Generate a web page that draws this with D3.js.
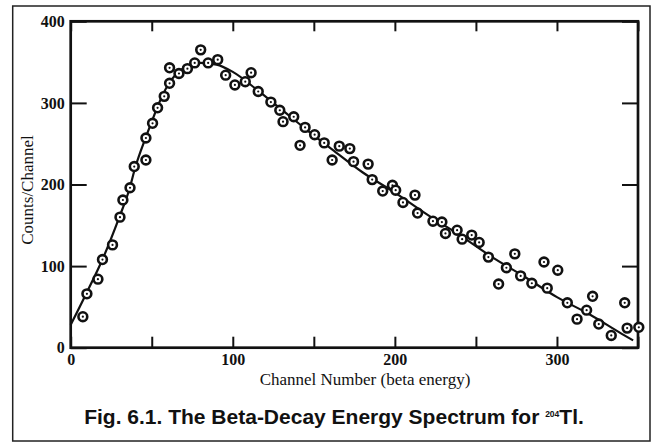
<!DOCTYPE html>
<html>
  <head>
	<meta charset="utf-8">
    <title>Beta-Decay Energy Spectrum</title>
    <script src="https://cdnjs.cloudflare.com/ajax/libs/d3/7.8.5/d3.min.js"></script>
  	<style>
		body{
			margin:0;
			background:#fff;
		}
		svg{
			display:block;
		}
		.tick text{
			font-family:"Liberation Serif","Times New Roman",serif;
			font-size:16px;
			font-weight:bold;
			fill:#111;
		}
		.tick line{
			stroke:#111;
			stroke-width:2px;
		}
		.axis-title{
			font-family:"Liberation Serif","Times New Roman",serif;
			font-size:17px;
			fill:#111;
		}
		.caption{
			font-family:"Liberation Sans",Arial,sans-serif;
			font-size:21px;
			font-weight:bold;
			fill:#111;
		}
	</style>
  </head>
  <body>
    <div id="diagram"></div>
    <script>
		// measured counts per channel
		var channel = [7.5,10,16.8,19.6,25.8,30.4,32.2,36.6,39.2,46.4,
			46.4,50.5,53.6,57.7,61,61,66.8,72,76.5,80.2,
			84.8,90.7,95.6,101.3,107.7,111.3,115.7,123.5,129,131,
			137.6,141.5,144.6,150.5,156.4,161.3,165.7,172.2,174.5,183.5,
			186,192.5,198.5,200.5,205,212.4,214,223.5,229,231.2,
			238.4,241.5,247.4,252,257.7,264,268.8,274,277.6,284.5,
			292,294,300.5,306.4,312.4,318.3,322,325.8,333.5,341.8,
			343.3,350.5];
		var counts = [38,66,84,108,126,160,181,196,222,257,
			230,275,294,308,324,343,336,342,349,365,
			349,353,334,322,326,337,314,301,291,277,
			283,248,270,261,251,230,247,244,228,225,
			206,192,199,193,178,187,165,155,154,140,
			144,133,138,129,111,78,98,115,88,79,
			105,73,95,55,35,46,63,29,15,55,
			24,25];

		// smooth curve drawn through the data
		var fitX = [0,10,20,30,36,40,46,50,55,60,65,70,80,90,100,115,130,145,160,180,200,220,240,260,280,300,320,340,347];
		var fitY = [28,68,110,160,193,222,256,277,302,322,335,343,349,347,338,316,292,268,245,215,190,163,138,111,87,62,41,17,9];

		var xTicks = [0,50,100,150,200,250,300,350];
		var xLabels = [0,100,200,300];
		var yTicks = [0,100,200,300,400];

		var W = 655, H = 445;
		var pL = 70.7, pR = 638, pT = 21.3, pB = 347.7;

		var svg = d3.select("#diagram").append("svg")
					.attr("width", W)
					.attr("height", H);

		//outer frame
		svg.append("rect")
			.attr("x",12.7).attr("y",6)
			.attr("width",650-12.7).attr("height",441-6)
			.attr("fill","none").attr("stroke","#222").attr("stroke-width",1.5);

		var xScale = d3.scaleLinear().domain([0,350]).range([pL,pR]);
		var yScale = d3.scaleLinear().domain([0,400]).range([pB,pT]);

		//axes, ticks point inward
		svg.append("g")
			.attr("transform","translate(0,"+pB+")")
			.call(d3.axisBottom(xScale).tickValues(xTicks).tickSizeInner(-11).tickSizeOuter(0).tickPadding(6)
				.tickFormat(function(d){ return xLabels.indexOf(d) >= 0 ? d : ""; }));
		svg.append("g")
			.attr("transform","translate(0,"+pT+")")
			.call(d3.axisTop(xScale).tickValues(xTicks).tickSizeInner(-10).tickSizeOuter(0).tickFormat(""));
		svg.append("g")
			.attr("transform","translate("+pL+",0)")
			.call(d3.axisLeft(yScale).tickValues(yTicks).tickSizeInner(-16).tickSizeOuter(0).tickPadding(6));
		svg.append("g")
			.attr("transform","translate("+pR+",0)")
			.call(d3.axisRight(yScale).tickValues(yTicks).tickSizeInner(-16).tickSizeOuter(0).tickFormat(""));
		svg.selectAll(".domain").remove();

		svg.append("rect")
			.attr("x",pL).attr("y",pT)
			.attr("width",pR-pL).attr("height",pB-pT)
			.attr("fill","none").attr("stroke","#111").attr("stroke-width",2.7);

		//fit line
		var line = d3.line()
			.x(function(d,i){ return xScale(fitX[i]); })
			.y(function(d,i){ return yScale(fitY[i]); })
			.curve(d3.curveMonotoneX);
		svg.append("path")
			.datum(fitX)
			.attr("d",line)
			.attr("fill","none")
			.attr("stroke","#111")
			.attr("stroke-width",2.2);

		//data points: open circle with a centre dot
		var pts = svg.selectAll(".pt")
			.data(channel)
			.enter().append("g")
			.attr("class","pt")
			.attr("transform",function(d,i){ return "translate("+xScale(d)+","+yScale(counts[i])+")"; });
		pts.append("circle")
			.attr("r",4.4)
			.attr("fill","#fff")
			.attr("stroke","#111")
			.attr("stroke-width",2.6);
		pts.append("circle")
			.attr("r",1.1)
			.attr("fill","#111");

		//titles
		svg.append("text")
			.attr("class","axis-title")
			.attr("x",365)
			.attr("y",385)
			.attr("text-anchor","middle")
			.text("Channel Number (beta energy)");
		svg.append("text")
			.attr("class","axis-title")
			.attr("transform","translate(33,190) rotate(-90)")
			.attr("text-anchor","middle")
			.text("Counts/Channel");

		var cap = svg.append("text")
			.attr("class","caption")
			.attr("x",334)
			.attr("y",424)
			.attr("text-anchor","middle");
		cap.append("tspan").text("Fig. 6.1. The Beta-Decay Energy Spectrum for ");
		cap.append("tspan").attr("font-size","8.5px").attr("dy","-7").text("204");
		cap.append("tspan").attr("dy","7").text("Tl.");
	</script>
  </body>
</html>
